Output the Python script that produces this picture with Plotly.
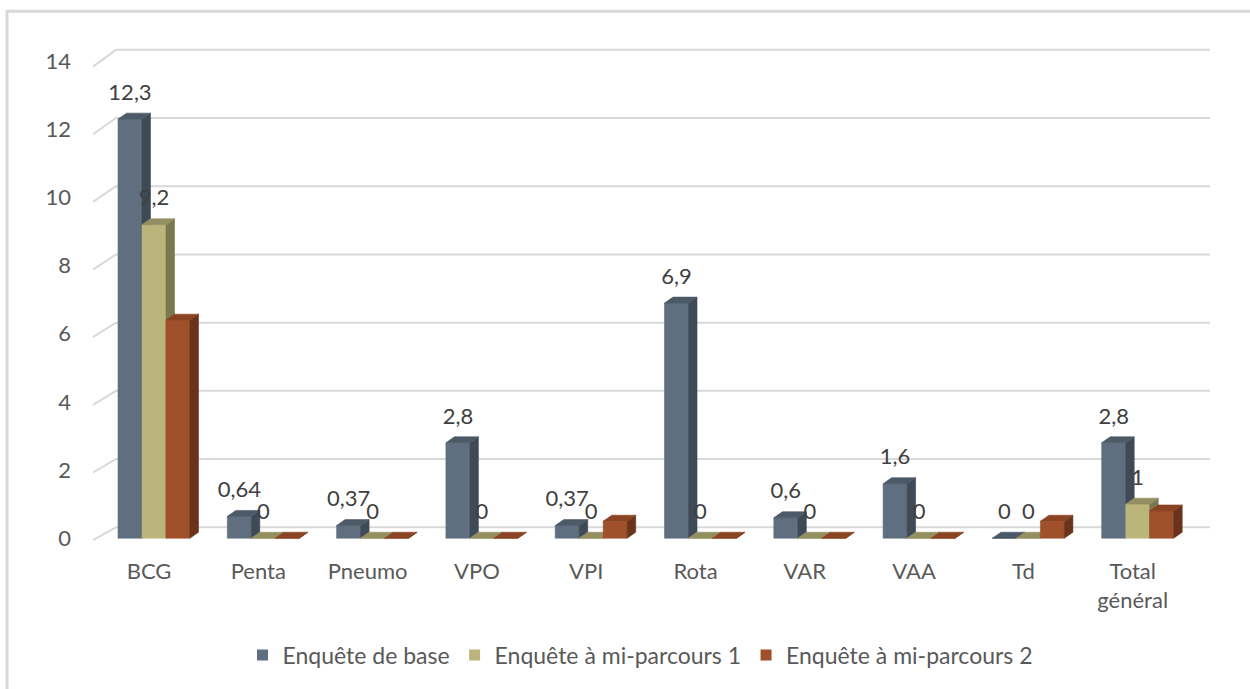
import plotly.graph_objects as go

# ---- data -------------------------------------------------------------
categories = ["BCG", "Penta", "Pneumo", "VPO", "VPI", "Rota", "VAR", "VAA", "Td",
              "Total<br>général"]
base_survey = [12.3, 0.64, 0.37, 2.8, 0.37, 6.9, 0.6, 1.6, 0, 2.8]
midterm_1 = [9.2, 0, 0, 0, 0, 0, 0, 0, 0, 1]
midterm_2 = [6.4, 0, 0, 0, 0.5, 0, 0, 0, 0.5, 0.8]
series_names = ["Enquête de base", "Enquête à mi-parcours 1", "Enquête à mi-parcours 2"]
y_ticks = [0, 2, 4, 6, 8, 10, 12, 14]

# ---- layout geometry (pixels) -----------------------------------------
W, H = 1250, 689
ML, MR, MT, MB = 90, 35, 35, 128
PX_PER_CAT = 109.3          # horizontal spacing between categories
PX_PER_UNIT = 34.4          # vertical pixels per value unit
CAT0_PX = 149               # pixel x of the first category centre
BASE_PX = 538               # pixel y of the value 0 on the front plane (before shift)
SHIFT = MT - 30             # vertical shift applied to the whole plot area

kx = 1.0 / PX_PER_CAT
ky = 1.0 / PX_PER_UNIT
x_range = [(ML - CAT0_PX) * kx, (W - MR - CAT0_PX) * kx]
y_range = [(BASE_PX - (H - MB - SHIFT)) * ky, (BASE_PX - (MT - SHIFT)) * ky]

BAR_W = 24 * kx
OFFSETS = [-31 * kx, -7 * kx, 17 * kx]   # left edge of each series' front face
DX, DY = 8.5 * kx, 6 * ky                # depth of the pseudo-3D extrusion

styles = [
    dict(front="#5F6F7F", side="#3E4A56", top="#4C5966"),
    dict(front="#BCB57B", side="#7B774F", top="#948F60"),
    dict(front="#A0502B", side="#6A341C", top="#8A4424"),
]
TEXT = "#595959"
FONT = "Lato"
FS = 22

fig = go.Figure()

# ---- back wall gridlines with the slanted floor edge -------------------
gx, gy = [], []
for v in y_ticks:
    y_front = (BASE_PX - (540 - 34.15 * v)) * ky
    y_back = (BASE_PX - (527 - 34.43 * v)) * ky
    gx += [(93 - CAT0_PX) * kx, (116 - CAT0_PX) * kx, (1210 - CAT0_PX) * kx, None]
    gy += [y_front, y_back, y_back, None]
fig.add_trace(go.Scatter(x=gx, y=gy, mode="lines", line=dict(color="#D9D9D9", width=2),
                         hoverinfo="skip", showlegend=False))


def faces(values, off):
    fx, fy, sx, sy, tx, ty = [], [], [], [], [], []
    for i, v in enumerate(values):
        x0 = i + off
        x1 = x0 + BAR_W
        fx += [x0, x1, x1, x0, x0, None]
        fy += [0, 0, v, v, 0, None]
        sx += [x1, x1 + DX, x1 + DX, x1, x1, None]
        sy += [0, DY, v + DY, v, 0, None]
        tx += [x0, x1, x1 + DX, x0 + DX, x0, None]
        ty += [v, v, v + DY, v + DY, v, None]
    return (fx, fy), (sx, sy), (tx, ty)


all_series = [base_survey, midterm_1, midterm_2]
for vals, off, st in zip(all_series, OFFSETS, styles):
    (fx, fy), (sx, sy), (tx, ty) = faces(vals, off)
    for (xx, yy), col in (((fx, fy), st["front"]), ((sx, sy), st["side"]),
                          ((tx, ty), st["top"])):
        fig.add_trace(go.Scatter(x=xx, y=yy, mode="lines", fill="toself",
                                 fillcolor=col, line=dict(width=0.6, color=col),
                                 hoverinfo="skip", showlegend=False))

# ---- value labels (first two series) -----------------------------------
LABEL_LIFT = 25 * ky
for vals, off in ((base_survey, OFFSETS[0]), (midterm_1, OFFSETS[1])):
    fig.add_trace(go.Scatter(
        x=[i + off + BAR_W / 2 for i in range(len(vals))],
        y=[v + LABEL_LIFT for v in vals],
        text=[f"{v:g}".replace(".", ",") for v in vals],
        mode="text", textposition="middle center",
        textfont=dict(family=FONT, size=FS, color="#404040"),
        hoverinfo="skip", showlegend=False, cliponaxis=False))

# ---- legend entries -----------------------------------------------------
for name, st in zip(series_names, styles):
    fig.add_trace(go.Scatter(x=[None], y=[None], mode="markers", name=name,
                             marker=dict(symbol="square", size=11, color=st["front"])))

plot_w = W - ML - MR
plot_h = H - MT - MB
fig.add_shape(type="rect", xref="paper", yref="paper",
              x0=(7 - ML) / plot_w, x1=(W + 20 - ML) / plot_w,
              y0=1 - (H + 20 - MT) / plot_h, y1=1 - (11 - MT) / plot_h,
              line=dict(color="#D9D9D9", width=3), layer="below")

fig.update_layout(
    width=W, height=H,
    margin=dict(l=ML, r=MR, t=MT, b=MB),
    paper_bgcolor="white", plot_bgcolor="white",
    font=dict(family=FONT, size=FS, color=TEXT),
    xaxis=dict(range=x_range, tickmode="array",
               tickvals=list(range(len(categories))), ticktext=categories,
               showgrid=False, zeroline=False, showline=False, ticks="",
               tickfont=dict(family=FONT, size=FS, color=TEXT), fixedrange=True),
    yaxis=dict(range=y_range, tickmode="array", tickvals=y_ticks,
               ticktext=[str(t) for t in y_ticks],
               showgrid=False, zeroline=False, showline=False, ticks="",
               ticklabelstandoff=18,
               tickfont=dict(family=FONT, size=FS, color=TEXT), fixedrange=True),
    legend=dict(orientation="h", x=(640 - ML) / plot_w, xanchor="center",
                y=1 - (661 - MT) / plot_h, yanchor="middle",
                font=dict(family=FONT, size=23, color=TEXT),
                bgcolor="rgba(0,0,0,0)", itemwidth=30, entrywidth=0),
    showlegend=True,
)

fig.write_html("out.html")
